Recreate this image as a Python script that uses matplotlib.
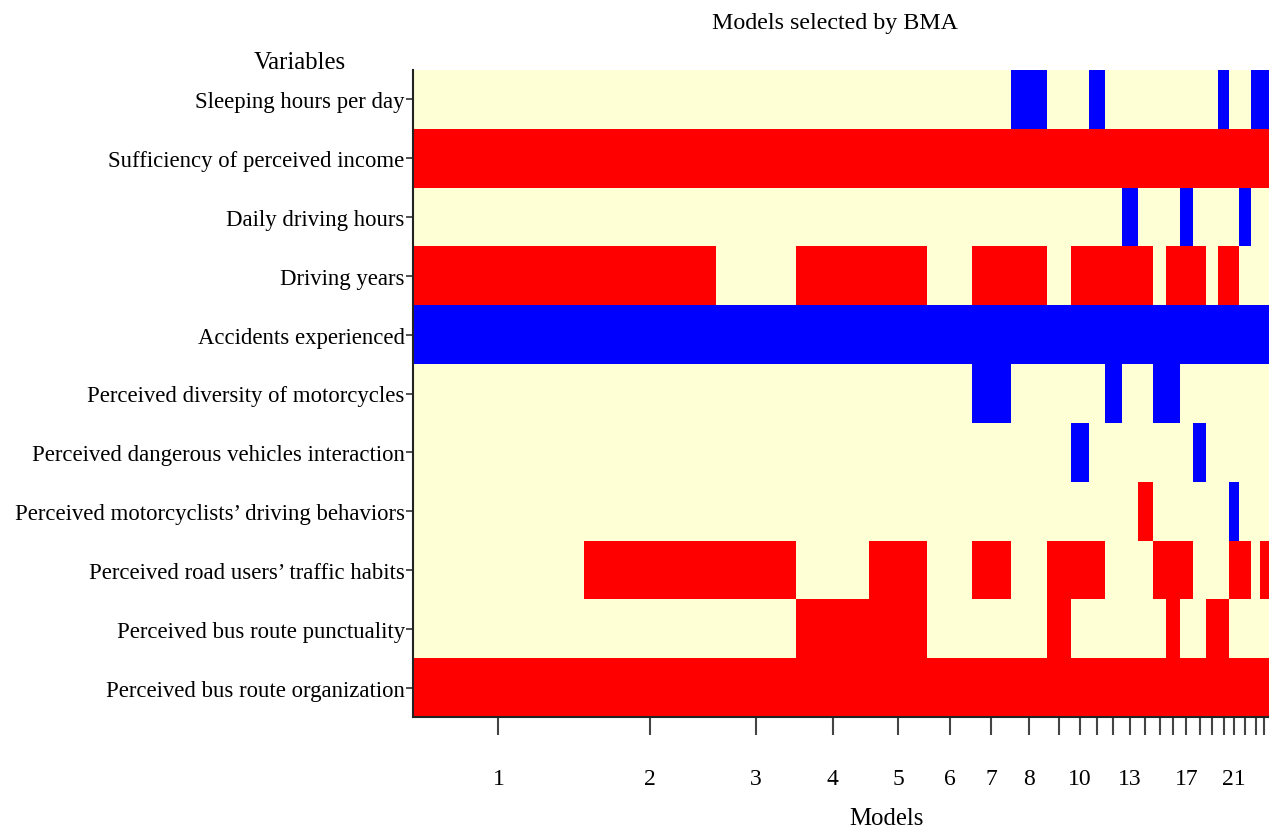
import numpy as np
import matplotlib.pyplot as plt
from matplotlib.colors import ListedColormap, BoundaryNorm

plt.rcParams['font.family'] = ['Liberation Serif', 'DejaVu Serif']

# Variables, top to bottom
variables = [
    "Sleeping hours per day",
    "Sufficiency of perceived income",
    "Daily driving hours",
    "Driving years",
    "Accidents experienced",
    "Perceived diversity of motorcycles",
    "Perceived dangerous vehicles interaction",
    "Perceived motorcyclists\u2019 driving behaviors",
    "Perceived road users\u2019 traffic habits",
    "Perceived bus route punctuality",
    "Perceived bus route organization",
]

# posterior model probabilities (column widths), models 1..24
post_prob = [0.200, 0.155, 0.093, 0.086, 0.068, 0.052, 0.046, 0.042,
             0.028, 0.021, 0.019, 0.0195, 0.0187, 0.0179, 0.0156, 0.0157,
             0.0156, 0.0156, 0.0140, 0.0122, 0.0123, 0.0138, 0.0109, 0.0094]

# models given as 1-based column numbers: positive (red) / negative (blue)
pos_models = [
    [],
    list(range(1, 25)),
    [],
    [1, 2, 4, 5, 7, 8, 10, 11, 12, 13, 14, 16, 17, 18, 20, 21],
    [],
    [],
    [],
    [14],
    [2, 3, 5, 7, 9, 10, 11, 15, 16, 17, 21, 22, 24],
    [4, 5, 9, 16, 19, 20],
    list(range(1, 25)),
]
neg_models = [
    [8, 11, 20, 23, 24],
    [],
    [13, 17, 22],
    [],
    list(range(1, 25)),
    [7, 12, 15, 16],
    [10, 18],
    [21],
    [],
    [],
    [],
]

model_labels = {1: "1", 2: "2", 3: "3", 4: "4", 5: "5", 6: "6", 7: "7", 8: "8",
                10: "10", 13: "13", 17: "17", 21: "21"}

n_var = len(variables)
n_mod = len(post_prob)
probs = np.array(post_prob) / np.sum(post_prob)
x_edges = np.concatenate([[0], np.cumsum(probs)])
x_mid = (x_edges[:-1] + x_edges[1:]) / 2

mat = np.zeros((n_var, n_mod))
for i in range(n_var):
    for m in pos_models[i]:
        mat[i, m - 1] = 1
    for m in neg_models[i]:
        mat[i, m - 1] = -1

W, H = 1269, 829
fig = plt.figure(figsize=(W / 100, H / 100), dpi=100)
ax = fig.add_axes([413 / W, 1 - 718 / H, (1268.5 - 413) / W, (718 - 71) / H])

cmap = ListedColormap(["#0000FF", "#FFFFD5", "#FF0000"])
norm = BoundaryNorm([-1.5, -0.5, 0.5, 1.5], cmap.N)
y_edges = np.arange(n_var + 1)
ax.pcolormesh(x_edges, y_edges, mat, cmap=cmap, norm=norm)
ax.set_xlim(0, 1)
ax.set_ylim(n_var, 0)

ax.set_yticks(np.arange(n_var) + 0.5)
ax.set_yticklabels(variables, fontsize=16.4)
ax.tick_params(axis='y', length=5, width=1.2, pad=1, color='#333333')

ax.set_xticks(x_mid)
ax.set_xticklabels([model_labels.get(i + 1, "") for i in range(n_mod)], fontsize=17)
ax.tick_params(axis='x', length=13, width=1.5, pad=24, color='#444444')

for s in ['top', 'right']:
    ax.spines[s].set_visible(False)
for s in ['left', 'bottom']:
    ax.spines[s].set_linewidth(1.5)
    ax.spines[s].set_color('#222222')

fig.text(835 / W, 1 - 24 / H, "Models selected by BMA", ha='center', va='center', fontsize=17.3)
fig.text(300 / W, 1 - 63 / H, "Variables", ha='center', va='center', fontsize=17.8)
fig.text(887 / W, 1 - 819 / H, "Models", ha='center', va='center', fontsize=17.8)

fig.savefig("out.png", dpi=100)
